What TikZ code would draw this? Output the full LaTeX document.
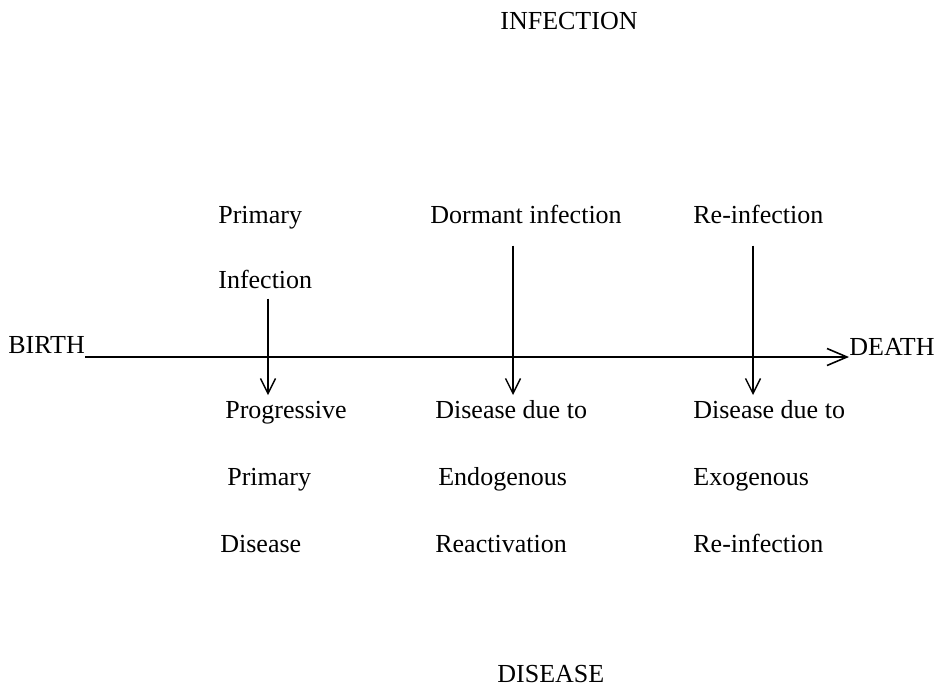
\documentclass[tikz,border=0pt]{standalone}
\usepackage{fontspec}
\setmainfont{Liberation Serif}
\usetikzlibrary{arrows.meta}

\begin{document}
\begin{tikzpicture}[x=0.02cm, y=-0.02cm,
  txt/.style={font=\fontsize{14.8}{17}\selectfont, inner sep=0pt, anchor=base west},
  drop/.style={line width=0.8pt, -{Straight Barb[length=0.3cm, width=0.3cm]}},
  lifeline/.style={line width=0.9pt, -{Straight Barb[length=0.4cm, width=0.34cm]}}]
  \useasboundingbox (0,0) rectangle (939,687);

  % Headings
  \node[txt] (infhead) at (500,29) {INFECTION};
  \node[txt] (dishead) at (497,682) {DISEASE};

  % Life line
  \node[txt] (birth) at (8,353) {BIRTH};
  \node[txt] (death) at (849,355) {DEATH};
  \draw[lifeline] ([yshift=-0.08cm]birth.base east) -- ([yshift=-0.04cm]death.base west);

  % Events above the line
  \node[txt] (prim) at (218,223) {Primary};
  \node[txt] (priminf) at (218,288) {Infection};
  \node[txt] (dormant) at (430,223) {Dormant infection};
  \node[txt] (reinf) at (693,223) {Re-infection};

  % Arrow tips (just under the line)
  \coordinate (tipA) at (268,395);
  \coordinate (tipB) at (513,395);
  \coordinate (tipC) at (753,395);

  \draw[drop] ([yshift=-0.2cm]tipA |- priminf.south) -- (tipA); % Primary infection
  \draw[drop] ([yshift=-0.44cm]tipB |- dormant.south) -- (tipB); % Dormant infection
  \draw[drop] ([yshift=-0.44cm]tipC |- reinf.south) -- (tipC); % Re-infection

  % Outcomes below the line
  % Progressive primary disease
  \node[txt] (prog) at (225,418) {Progressive};
  \node[txt] (progprim) at (227,485) {Primary};
  \node[txt] (progdis) at (220,552) {Disease};

  % Endogenous reactivation
  \node[txt] (endodue) at (435,418) {Disease due to};
  \node[txt] (endo) at (438,485) {Endogenous};
  \node[txt] (react) at (435,552) {Reactivation};

  % Exogenous re-infection
  \node[txt] (exodue) at (693,418) {Disease due to};
  \node[txt] (exo) at (693,485) {Exogenous};
  \node[txt] (exoreinf) at (693,552) {Re-infection};
\end{tikzpicture}
\end{document}
